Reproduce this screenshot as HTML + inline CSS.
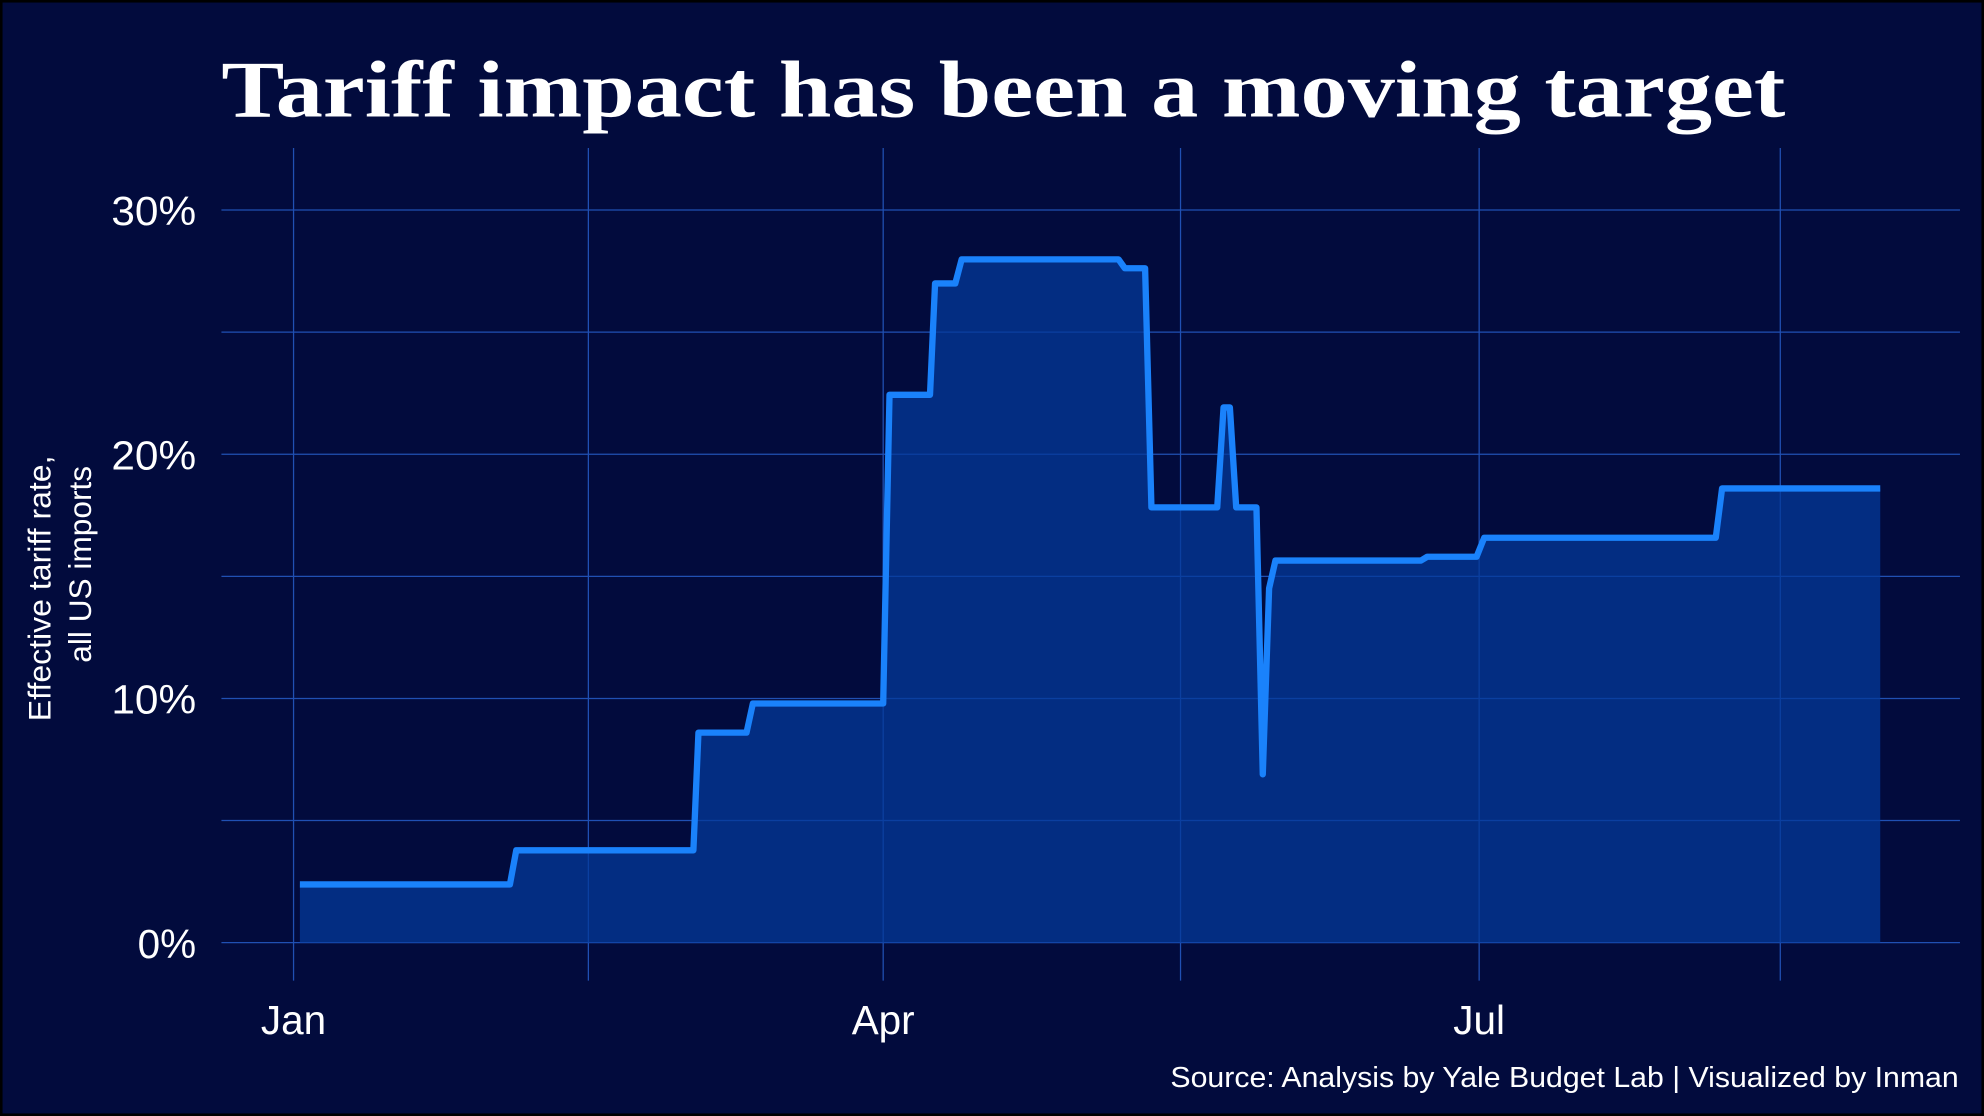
<!DOCTYPE html>
<html><head><meta charset="utf-8"><style>
html,body{margin:0;padding:0;background:#000;}
svg{display:block;}
</style></head><body>
<svg width="1984" height="1116" viewBox="0 0 1568 882" preserveAspectRatio="none" xmlns="http://www.w3.org/2000/svg">
<rect x="0" y="0" width="1568" height="882" fill="#000"/>
<rect x="2" y="2" width="1564" height="878" fill="#020b3d"/>
<text x="175" y="92" font-family="'Liberation Serif',serif" font-weight="bold" font-size="64" fill="#fff" textLength="1236" lengthAdjust="spacingAndGlyphs">Tariff impact has been a moving target</text>
<g stroke="#2458c0" stroke-width="1" opacity="0.9">
<line x1="175" x2="1549" y1="166" y2="166"/>
<line x1="175" x2="1549" y1="262.5" y2="262.5"/>
<line x1="175" x2="1549" y1="359" y2="359"/>
<line x1="175" x2="1549" y1="455.5" y2="455.5"/>
<line x1="175" x2="1549" y1="552" y2="552"/>
<line x1="175" x2="1549" y1="648.5" y2="648.5"/>
<line x1="175" x2="1549" y1="745" y2="745"/>
<line x1="232" x2="232" y1="117" y2="775"/>
<line x1="465" x2="465" y1="117" y2="775"/>
<line x1="698" x2="698" y1="117" y2="775"/>
<line x1="933" x2="933" y1="117" y2="775"/>
<line x1="1169" x2="1169" y1="117" y2="775"/>
<line x1="1407" x2="1407" y1="117" y2="775"/>
</g>
<path d="M237,745 L237,699 L403,699 L408,672 L548,672 L552,579 L590,579 L595,556 L698,556 L703,312 L735,312 L739,224 L755,224 L760,205 L884,205 L889,212 L905,212 L910,401 L962,401 L967,322 L972,322 L977,401 L993,401 L998,612 L1003,465 L1008,443 L1123,443 L1128,440 L1167,440 L1173,425 L1356,425 L1361,386 L1486,386 L1486,745 Z" fill="#043a99" opacity="0.75"/>
<path d="M237,699 L403,699 L408,672 L548,672 L552,579 L590,579 L595,556 L698,556 L703,312 L735,312 L739,224 L755,224 L760,205 L884,205 L889,212 L905,212 L910,401 L962,401 L967,322 L972,322 L977,401 L993,401 L998,612 L1003,465 L1008,443 L1123,443 L1128,440 L1167,440 L1173,425 L1356,425 L1361,386 L1486,386" fill="none" stroke="#1a82fb" stroke-width="5" stroke-linejoin="round"/>
<g font-family="'Liberation Sans',sans-serif" font-size="32" fill="#fff" text-anchor="end">
<text x="155" y="178" textLength="67" lengthAdjust="spacingAndGlyphs">30%</text>
<text x="155" y="371" textLength="67" lengthAdjust="spacingAndGlyphs">20%</text>
<text x="155" y="564" textLength="67" lengthAdjust="spacingAndGlyphs">10%</text>
<text x="155" y="757">0%</text>
</g>
<g font-family="'Liberation Sans',sans-serif" font-size="32" fill="#fff" text-anchor="middle">
<text x="232" y="817">Jan</text>
<text x="698" y="817">Apr</text>
<text x="1169" y="817">Jul</text>
</g>
<g font-family="'Liberation Sans',sans-serif" font-size="25" fill="#fff" text-anchor="middle">
<text transform="translate(40,465) rotate(-90)" textLength="210" lengthAdjust="spacingAndGlyphs">Effective tariff rate,</text>
<text transform="translate(72,446) rotate(-90)">all US imports</text>
</g>
<text x="1548" y="859" font-family="'Liberation Sans',sans-serif" font-size="23" fill="#fff" text-anchor="end" textLength="623" lengthAdjust="spacingAndGlyphs">Source: Analysis by Yale Budget Lab | Visualized by Inman</text>
</svg>
</body></html>
